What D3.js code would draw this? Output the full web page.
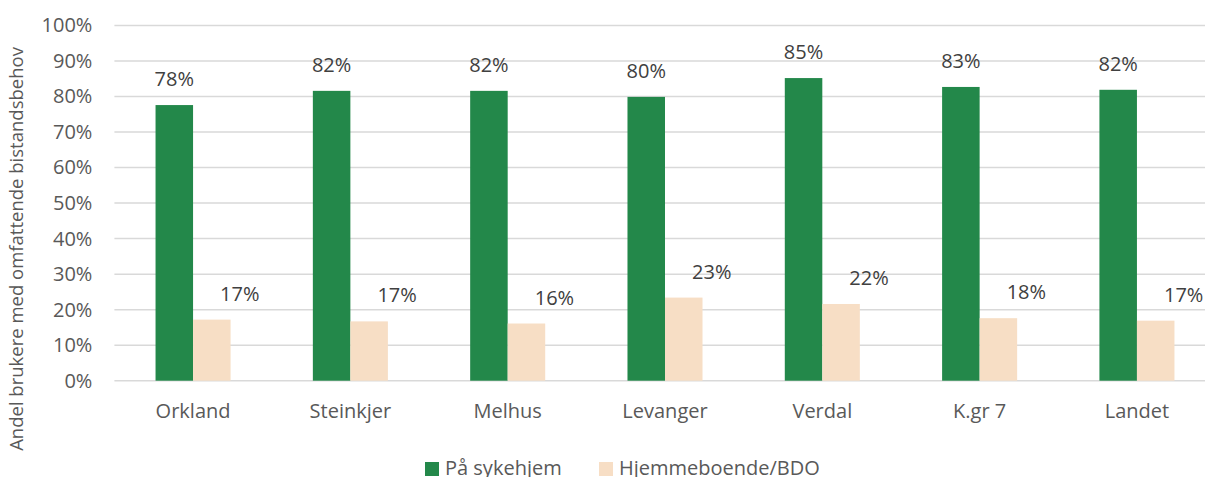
<!DOCTYPE html>
<html>
<head>
<meta charset="utf-8">
<script src="https://cdn.jsdelivr.net/npm/d3@7"></script>
<style>
  body { margin: 0; background: #fff; }
  svg { display: block; font-family: "Open Sans", sans-serif; }
</style>
</head>
<body>
<svg id="chart" width="1205" height="477"></svg>
<script>
// chart data
const categories = ["Orkland", "Steinkjer", "Melhus", "Levanger", "Verdal", "K.gr 7", "Landet"];
const seriesNames = ["På sykehjem", "Hjemmeboende/BDO"];
const sykehjem = [77.6, 81.6, 81.6, 79.9, 85.2, 82.7, 81.9];
const hjemme = [17.2, 16.7, 16.1, 23.4, 21.6, 17.6, 16.9];
const yTicks = [0, 10, 20, 30, 40, 50, 60, 70, 80, 90, 100];
const colors = ["#23884a", "#f7dec5"];

const svg = d3.select("#chart");
const width = 1205, height = 477;
const margin = { top: 25.5, left: 114.4, bottom: 96.3 };
const plotRight = 1215.6; // plot area runs past the picture edge

const x = d3.scaleBand().domain(categories).range([margin.left, plotRight]).paddingInner(0).paddingOuter(0);
const barW = x.bandwidth() * 0.2385;
const y = d3.scaleLinear().domain([0, 100]).range([height - margin.bottom, margin.top]);

// gridlines
svg.append("g").selectAll("line").data(yTicks).enter().append("line")
    .attr("x1", margin.left).attr("x2", plotRight)
    .attr("y1", d => y(d)).attr("y2", d => y(d))
    .attr("stroke", "#d9d9d9").attr("stroke-width", 1.5);

// y axis labels
const yAxis = svg.append("g").attr("transform", `translate(${margin.left - 22},0)`)
    .call(d3.axisLeft(y).tickValues(yTicks).tickFormat(d => d + "%").tickSize(0).tickPadding(0));
yAxis.select(".domain").remove();
yAxis.selectAll("text").attr("fill", "#595959").style("font-size", "20px")
    .style("font-family", "Open Sans, sans-serif");

// x axis labels
const xAxis = svg.append("g").attr("transform", `translate(0,${y(0)})`)
    .call(d3.axisBottom(x).tickSize(0).tickPadding(23));
xAxis.select(".domain").remove();
xAxis.selectAll("text").attr("fill", "#595959").style("font-size", "20px")
    .style("font-family", "Open Sans, sans-serif");

// axis title
svg.append("text")
    .attr("transform", `translate(23,${249}) rotate(-90)`)
    .attr("text-anchor", "middle")
    .attr("fill", "#595959")
    .style("font-size", "18.5px")
    .text("Andel brukere med omfattende bistandsbehov");

const series = [sykehjem, hjemme];
series.forEach((vals, si) => {
    const g = svg.append("g");
    const bx = d => x(d) + x.bandwidth() / 2 + (si === 0 ? -barW : 0);
    g.selectAll("rect").data(categories).enter().append("rect")
        .attr("x", bx)
        .attr("y", (d, i) => y(vals[i]))
        .attr("width", barW)
        .attr("height", (d, i) => y(0) - y(vals[i]))
        .attr("fill", colors[si]);
    g.selectAll("text").data(categories).enter().append("text")
        .attr("x", d => bx(d) + barW / 2 + (si === 1 ? 28 : 0))
        .attr("y", (d, i) => y(vals[i]) - 19)
        .attr("text-anchor", "middle")
        .attr("fill", "#404040")
        .style("font-size", "20px")
        .text((d, i) => Math.round(vals[i]) + "%");
});

// legend (cut off at the bottom edge, as in the original)
const legend = svg.append("g");
const legendX = [425, 599];
seriesNames.forEach((name, i) => {
    legend.append("rect").attr("x", legendX[i]).attr("y", 462).attr("width", 14).attr("height", 14)
        .attr("fill", colors[i]);
    legend.append("text").attr("x", legendX[i] + 20).attr("y", 475)
        .attr("fill", "#595959").style("font-size", "20px").text(name);
});
</script>
</body>
</html>
